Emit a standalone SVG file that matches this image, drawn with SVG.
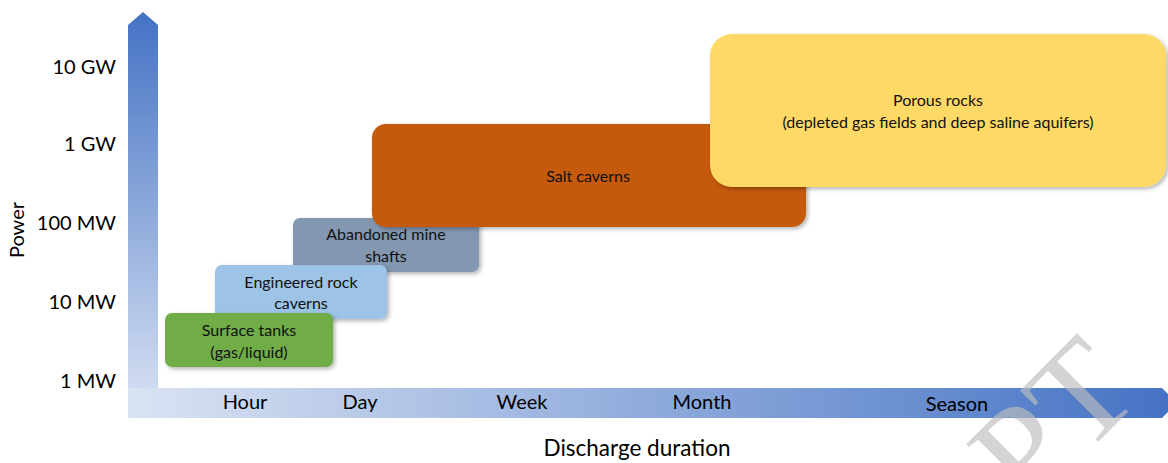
<svg xmlns="http://www.w3.org/2000/svg" width="1168" height="463" viewBox="0 0 1168 463">
  <defs>
    <linearGradient id="gv" x1="0" y1="12" x2="0" y2="418" gradientUnits="userSpaceOnUse">
      <stop offset="0" stop-color="#4472C4"/>
      <stop offset="1" stop-color="#DAE3F3"/>
    </linearGradient>
    <linearGradient id="gh" x1="128" y1="0" x2="1177" y2="0" gradientUnits="userSpaceOnUse">
      <stop offset="0" stop-color="#DAE3F3"/>
      <stop offset="1" stop-color="#4472C4"/>
    </linearGradient>
    <filter id="sh" x="-10%" y="-10%" width="120%" height="130%">
      <feDropShadow dx="2" dy="2" stdDeviation="2" flood-color="#000" flood-opacity="0.3"/>
    </filter>
  </defs>
  <style>
    .ax { font-family: Lato, "Open Sans", "Liberation Sans", sans-serif; font-size: 20px; fill: #000; }
    .bx { font-family: Lato, "Open Sans", "Liberation Sans", sans-serif; font-size: 16px; fill: #111; text-anchor: middle; }
    .yl { text-anchor: end; }
    .xl { text-anchor: middle; }
    .wm { font-family: "Liberation Serif", serif; font-size: 140px; fill: #BDBDBD; fill-opacity: 0.65; }
  </style>
  <rect width="1168" height="463" fill="#ffffff"/>

  <g id="axes">
    <polygon points="128,25 143,12 158,25 158,418 128,418" fill="url(#gv)"/>
    <polygon points="128,388 1162,388 1177,403 1162,418 128,418" fill="url(#gh)"/>
  </g>

  <g id="y-labels">
    <text class="ax yl" x="116" y="74">10 GW</text>
    <text class="ax yl" x="116" y="151">1 GW</text>
    <text class="ax yl" x="116" y="230">100 MW</text>
    <text class="ax yl" x="116" y="309">10 MW</text>
    <text class="ax yl" x="116" y="388">1 MW</text>
    <text class="ax" text-anchor="middle" transform="translate(24,230) rotate(-90)">Power</text>
  </g>

  <g id="x-labels">
    <text class="ax xl" x="245" y="409">Hour</text>
    <text class="ax xl" x="360" y="409">Day</text>
    <text class="ax xl" x="522" y="409">Week</text>
    <text class="ax xl" x="702" y="409">Month</text>
    <text class="ax xl" x="957" y="411">Season</text>
    <text class="ax xl" x="637" y="456" style="font-size:22.5px">Discharge duration</text>
  </g>

  <g id="connectors"></g>

  <g id="abandoned-mine-shafts">
    <rect x="293" y="218" width="186" height="54" rx="7" fill="#8497B0" filter="url(#sh)"/>
    <text class="bx" x="386" y="240">Abandoned mine</text>
    <text class="bx" x="386" y="262">shafts</text>
  </g>
  <g id="engineered-rock-caverns">
    <rect x="215" y="265" width="172" height="54" rx="7" fill="#9DC3E6" filter="url(#sh)"/>
    <text class="bx" x="301" y="288">Engineered rock</text>
    <text class="bx" x="301" y="309">caverns</text>
  </g>
  <g id="surface-tanks">
    <rect x="165" y="313" width="168" height="54" rx="7" fill="#70AD47" filter="url(#sh)"/>
    <text class="bx" x="249" y="336">Surface tanks</text>
    <text class="bx" x="249" y="358">(gas/liquid)</text>
  </g>
  <g id="salt-caverns">
    <rect x="372" y="124" width="434" height="103" rx="14" fill="#C55A11" filter="url(#sh)"/>
    <text class="bx" x="588" y="182">Salt caverns</text>
  </g>
  <g id="porous-rocks">
    <rect x="710" y="34" width="456" height="153" rx="22" fill="#FFD966" filter="url(#sh)"/>
    <text class="bx" x="938" y="106">Porous rocks</text>
    <text class="bx" x="938" y="128">(depleted gas fields and deep saline aquifers)</text>
  </g>

  <g id="watermark">
    <text class="wm" transform="translate(1028,512) rotate(-45)">PT</text>
  </g>
</svg>
